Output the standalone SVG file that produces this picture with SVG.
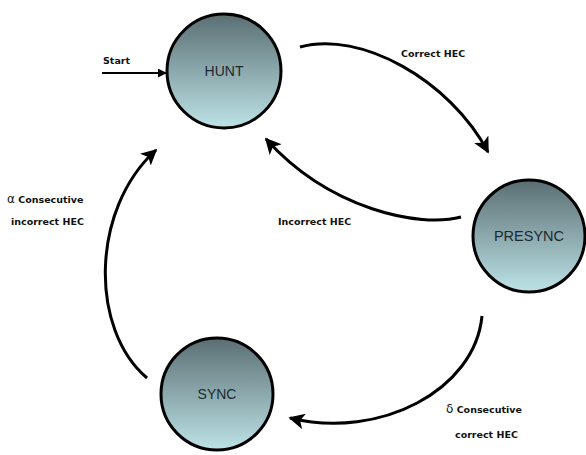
<svg xmlns="http://www.w3.org/2000/svg" width="586" height="455" viewBox="0 0 586 455">
<style>
.node{stroke:#000;stroke-width:3;fill:url(#g)}
.nl{font-family:"Liberation Sans",Arial,sans-serif;font-size:14px;fill:#1c2a30;text-anchor:middle}
.el{font-family:"DejaVu Sans",Verdana,sans-serif;font-size:9.5px;font-weight:bold;fill:#111}
.gk{font-size:12px;font-weight:normal}
.c{fill:none;stroke:#000;stroke-width:3}
</style>
<defs>
<linearGradient id="g" x1="0" y1="0" x2="0" y2="1">
<stop offset="0" stop-color="#5a6e72"/>
<stop offset="1" stop-color="#bde3e7"/>
</linearGradient>
<marker id="ah" viewBox="0 0 10 10" refX="9" refY="5" markerWidth="16" markerHeight="16" markerUnits="userSpaceOnUse" orient="auto">
<path d="M0,0 L10,5 L0,10 L2.5,5 z" fill="#000"/>
</marker>
<marker id="as" viewBox="0 0 10 10" refX="9" refY="5" markerWidth="9" markerHeight="9" markerUnits="userSpaceOnUse" orient="auto">
<path d="M0,0 L10,5 L0,10 z" fill="#000"/>
</marker>
</defs>
<g id="connectors">
<line x1="102" y1="73" x2="166" y2="73" stroke="#000" stroke-width="1.8" marker-end="url(#as)"/>
<path class="c" d="M300,47 C360,30 450,80 488,152" marker-end="url(#ah)"/>
<path class="c" d="M461,217 C420,228 330,210 266,139" marker-end="url(#ah)"/>
<path class="c" d="M147,378 C90,330 90,210 156,150" marker-end="url(#ah)"/>
<path class="c" d="M482,316 C475,390 380,440 290,418" marker-end="url(#ah)"/>
<text class="el" x="103" y="64">Start</text>
<text class="el" x="401" y="57">Correct HEC</text>
<text class="el" x="278" y="225">Incorrect HEC</text>
<text class="el" x="7" y="203"><tspan class="gk">α</tspan> Consecutive</text>
<text class="el" x="11" y="225">incorrect HEC</text>
<text class="el" x="446" y="413"><tspan class="gk">δ</tspan> Consecutive</text>
<text class="el" x="455" y="438">correct HEC</text>
</g>
<g id="hunt">
<circle class="node" cx="224" cy="71" r="57"/>
<text class="nl" x="224" y="76">HUNT</text>
</g>
<g id="presync">
<circle class="node" cx="529" cy="236" r="56"/>
<text class="nl" x="529" y="241" style="font-size:14.5px">PRESYNC</text>
</g>
<g id="sync">
<circle class="node" cx="217" cy="394" r="56"/>
<text class="nl" x="217" y="399">SYNC</text>
</g>
</svg>
